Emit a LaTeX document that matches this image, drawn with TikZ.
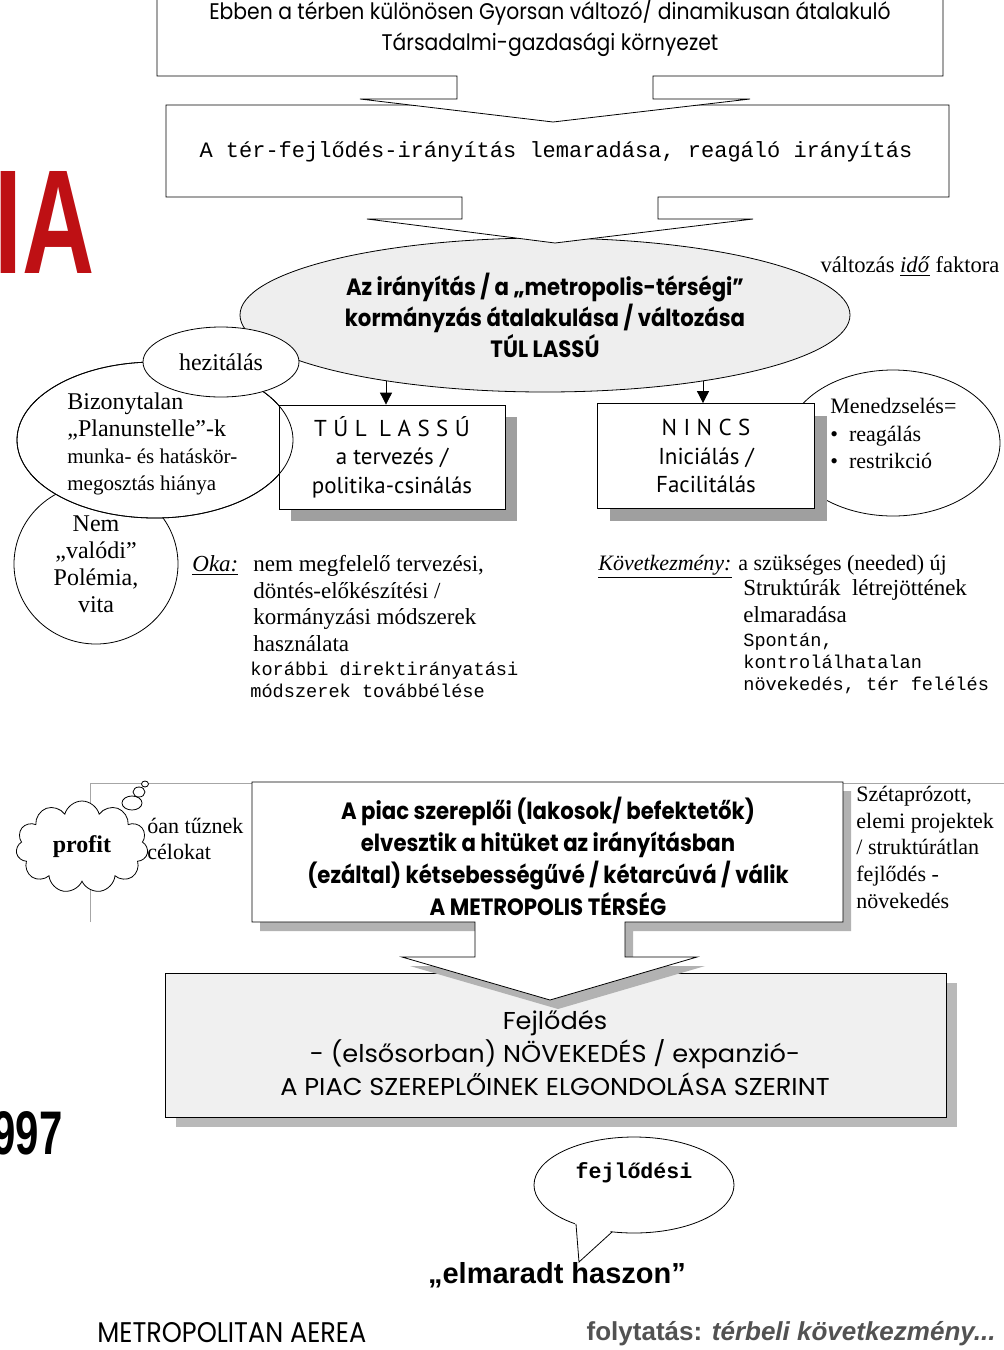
\documentclass[tikz,border=0pt]{standalone}
\usepackage{graphicx}
\usepackage{fontspec}
\setmainfont{Liberation Serif}
\setmonofont{Liberation Mono}
\newfontfamily\comicfont[FakeStretch=0.9]{Poppins}
\newfontfamily\widecomic[FakeStretch=1.05]{Poppins}
\newfontfamily\tahomafont{PT Sans}
\newfontfamily\arialfont{Liberation Sans}
\usetikzlibrary{shapes.geometric,shapes.symbols,shadows,arrows.meta}
\newcommand{\fs}[2]{\fontsize{#1}{#2}\selectfont}
\definecolor{titlered}{RGB}{190,16,20}
\tikzstyle{outline}=[draw, thin, fill=white]
\tikzstyle{oval}=[ellipse, draw, thin, fill=white, inner sep=0pt]
\tikzstyle{shadowbox}=[draw, thin, fill=white, inner sep=0pt, drop shadow={shadow xshift=6pt, shadow yshift=-6pt, fill=gray!75, opacity=1}]
\tikzstyle{flowarrow}=[-{Triangle[length=6pt,width=6pt]}, thin]
\tikzstyle{txt}=[inner sep=0pt, align=left, anchor=north west]

\begin{document}
\begin{tikzpicture}[x=0.5pt,y=-0.5pt]
    \useasboundingbox[fill=white] (0,0) rectangle (1004,1350);

    % governance ellipse
    \node[oval, fill=gray!13, minimum width=305pt, minimum height=77pt, align=center,
          font=\comicfont\bfseries\fs{11.8pt}{15.5pt}] (govern) at (545,315)
          {Az irányítás / a „metropolis-térségi”\\kormányzás átalakulása / változása\\TÚL LASSÚ};

    % second box with its block arrow
    \draw[outline] (166,105) -- (166,197) -- (462,197) -- (462,219) -- (367,219) -- (555,243)
        -- (753,219) -- (658,219) -- (658,197) -- (949,197) -- (949,105) -- cycle;
    \node[font=\ttfamily\fs{11pt}{13pt}] (lag) at (556,152)
        {A tér-fejlődés-irányítás lemaradása, reagáló irányítás};

    % top box with its block arrow
    \draw[outline] (157,-10) -- (157,76) -- (457,76) -- (457,99) -- (360,99) -- (553,122)
        -- (750,99) -- (653,99) -- (653,76) -- (943,76) -- (943,-10) -- cycle;
    \node[align=center, font=\comicfont\fs{11.3pt}{15.5pt}] (env) at (550,27)
        {Ebben a térben különösen Gyorsan változó/ dinamikusan átalakuló\\Társadalmi-gazdasági környezet};

    % left cluster
    \node[oval, minimum width=82pt, minimum height=80pt, align=center, font=\fs{12pt}{13.5pt}] (nem) at (96,564)
        {Nem\\„valódi”\\Polémia,\\vita};
    \node[oval, minimum width=138pt, minimum height=78pt] (unsure) at (155,440) {};
    \node[shadowbox, minimum width=113pt, minimum height=52pt, align=center,
          font=\tahomafont\fs{11.5pt}{14.25pt}] (slow) at (392,457)
          {{\addfontfeature{LetterSpace=28}TÚL LASSÚ}\\a tervezés /\\politika-csinálás};
    \draw[thin] (unsure.center) ellipse [x radius=138, y radius=78];
    \node[txt, font=\fs{12pt}{13.5pt}] (unsuretext) at (67,392)
        {Bizonytalan\\„Planunstelle”-k\\\fs{10.5pt}{11.5pt}munka- és hatáskör-\\\fs{10.5pt}{11.5pt}megosztás hiánya};
    \node[oval, minimum width=78pt, minimum height=35pt, font=\fs{12pt}{14pt}] (hesit) at (221,362) {hezitálás};

    % right cluster
    \node[oval, minimum width=107pt, minimum height=73pt] (manage) at (893,443) {};
    \node[shadowbox, minimum width=108.5pt, minimum height=52.5pt, align=center,
          font=\tahomafont\fs{11.5pt}{14.25pt}] (none) at (706,456)
          {{\addfontfeature{LetterSpace=28}NINCS}\\Iniciálás /\\Facilitálás};
    \node[txt, font=\fs{11pt}{13.7pt}] (managetext) at (830,398)
        {Menedzselés=\\\textbullet\ \ reagálás\\\textbullet\ \ restrikció};

    \coordinate (slowfrom) at (386,381);
    \coordinate (nonefrom) at (703,381);
    \draw[flowarrow] (slowfrom) -- (slowfrom |- slow.north);
    \draw[flowarrow] (nonefrom) -- (nonefrom |- none.north);

    \node[font=\fs{11.3pt}{14pt}] (timefactor) at (910,267) {változás \underline{\textit{idő}} faktora};

    % cause and consequence
    \node[anchor=base west, inner sep=0pt, font=\fs{11.5pt}{14pt}] (cause) at (192,571) {\underline{\textit{Oka:}}};
    \node[txt, font=\fs{11.5pt}{13.3pt}] (causetext) at (253,555)
        {nem megfelelő tervezési,\\döntés-előkészítési /\\kormányzási módszerek\\használata};
    \node[txt, font=\ttfamily\fs{9.3pt}{11pt}] (causemono) at (250,662)
        {korábbi direktirányatási\\módszerek továbbélése};
    \node[anchor=base west, inner sep=0pt, font=\fs{11pt}{14pt}] (result) at (598,570) {\underline{\textit{Következmény:}}};
    \node[anchor=base west, inner sep=0pt, font=\fs{11pt}{14pt}] (resulttext) at (738,570) {a szükséges (needed) új};
    \node[txt, font=\fs{11.5pt}{13.3pt}] (resultmore) at (743,579)
        {Struktúrák\ \ létrejöttének\\elmaradása};
    \node[txt, font=\ttfamily\fs{9.3pt}{11pt}] (resultmono) at (743,633)
        {Spontán,\\kontrolálhatalan\\növekedés, tér felélés};

    % lower part
    \draw[gray!70] (90,922) -- (90,783) -- (1004,783);
    \node[anchor=west, align=left, inner sep=0pt, font=\fs{11pt}{13pt}] (aims) at (147,839) {óan tűznek\\célokat};
    \node[cloud, draw, thin, fill=white, cloud puffs=11, cloud ignores aspect, minimum width=66pt,
          minimum height=46pt, font=\bfseries\fs{12pt}{14pt}] (profit) at (82,847) {profit};
    \draw[thin, fill=white] (132,803) ellipse [x radius=10, y radius=7];
    \draw[thin, fill=white] (139,792) ellipse [x radius=6, y radius=5];
    \draw[thin, fill=white] (145,784) ellipse [x radius=3.5, y radius=3];

    \node[draw, thin, fill=gray!12, minimum width=390.5pt, minimum height=72pt, inner sep=0pt,
          drop shadow={shadow xshift=5pt, shadow yshift=-5pt, fill=gray!55, opacity=1}] (growth) at (556,1045) {};
    \node[align=center, font=\widecomic\fs{12.2pt}{16.5pt}] (growthtext) at (555,1053)
        {Fejlődés\\- (elsősorban) NÖVEKEDÉS / expanzió-\\A PIAC SZEREPLŐINEK ELGONDOLÁSA SZERINT};

    \draw[outline, drop shadow={shadow xshift=4pt, shadow yshift=-4.5pt, fill=gray!60, opacity=1}]
        (252,782) -- (252,922) -- (475,922) -- (475,957) -- (402,957) -- (550,1000)
        -- (697,957) -- (625,957) -- (625,922) -- (843,922) -- (843,782) -- cycle;
    \node[align=center, font=\comicfont\bfseries\fs{11.8pt}{16pt}] (market) at (548,856)
        {A piac szereplői (lakosok/ befektetők)\\elvesztik a hitüket az irányításban\\(ezáltal) kétsebességűvé / kétarcúvá / válik\\A METROPOLIS TÉRSÉG};
    \node[txt, font=\fs{11pt}{13.3pt}] (fragment) at (856,786)
        {Szétaprózott,\\elemi projektek\\/ struktúrátlan\\fejlődés -\\növekedés};

    % speech bubble
    \node[oval, minimum width=100pt, minimum height=48pt] (bubble) at (634,1185) {};
    \coordinate (tailtip) at (579,1262);
    \fill[white] (575,1221) -- (tailtip) -- (613,1229) -- cycle;
    \draw[thin] (576,1224) -- (tailtip) -- (612,1232);
    \node[font=\ttfamily\bfseries\fs{10.8pt}{12pt}] (bubbletext) at (634,1173) {fejlődési};
    \node[font=\arialfont\bfseries\fs{14.5pt}{16pt}] (lostgain) at (557,1275) {„elmaradt haszon”};

    % footer and cut-off marks
    \node[anchor=west, inner sep=0pt, font=\comicfont\fs{14.2pt}{16pt}] (areaname) at (97,1333) {METROPOLITAN AEREA};
    \node[anchor=east, inner sep=0pt, text=black!68, font=\arialfont\bfseries\fs{13pt}{15pt}] (continue) at (996,1334)
        {folytatás: \textit{térbeli következmény...}};
    \node[anchor=south east, inner sep=0pt, text=titlered, font=\arialfont\bfseries] (redmark) at (95,274)
        {\resizebox{50pt}{51pt}{IA}};
    \node[anchor=south east, inner sep=0pt, font=\arialfont\bfseries] (yearmark) at (63,1155)
        {\resizebox{35pt}{21.5pt}{997}};
\end{tikzpicture}
\end{document}
